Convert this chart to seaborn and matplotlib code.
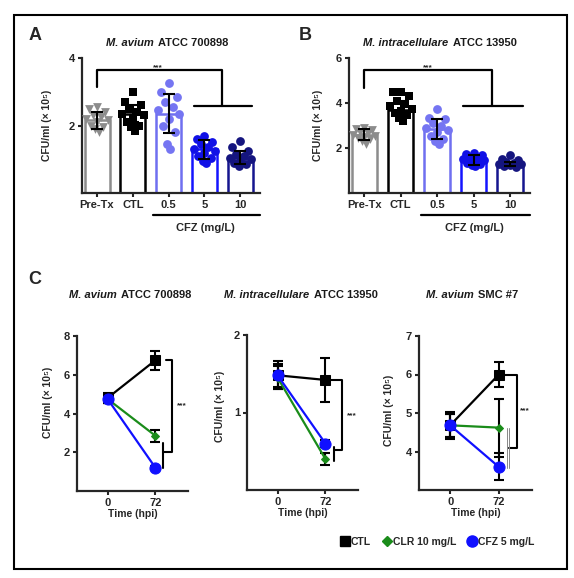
import pandas as pd
import matplotlib
matplotlib.use('Agg')
import matplotlib.pyplot as plt
import seaborn as sns
from matplotlib.offsetbox import TextArea, HPacker, AnnotationBbox
from matplotlib.lines import Line2D
from matplotlib.patches import Rectangle

sns.set_style('ticks')
plt.rcParams['font.family'] = ['Liberation Sans', 'DejaVu Sans']
plt.rcParams['font.weight'] = 'bold'

# ---- data: panels A / B (bar + dots) ----
groups = ['Pre-Tx', 'CTL', '0.5', '5', '10']
bar_colors = ['#8c8c8c', '#000000', '#6f6ff0', '#1414ff', '#15158f']
dot_colors = ['#8c8c8c', '#000000', '#7575f2', '#1010e6', '#15157f']
dot_markers = ['v', 's', 'o', 'o', 'o']

avium_mean = [2.15, 2.35, 2.35, 1.3, 1.05]
avium_sd = [0.25, 0.25, 0.58, 0.28, 0.2]
avium_points = [
    [2.55, 2.5, 2.4, 2.3, 2.25, 2.2, 2.15, 2.1, 2.0, 1.95, 1.9, 1.8],
    [3.0, 2.7, 2.6, 2.5, 2.4, 2.35, 2.3, 2.2, 2.1, 2.0, 1.95, 1.85],
    [3.25, 3.0, 2.85, 2.7, 2.55, 2.45, 2.35, 2.2, 2.0, 1.8, 1.45, 1.3],
    [1.7, 1.6, 1.5, 1.45, 1.35, 1.3, 1.25, 1.2, 1.1, 1.05, 0.95, 0.88],
    [1.55, 1.35, 1.25, 1.15, 1.1, 1.05, 1.0, 0.95, 0.9, 0.85, 0.8],
]

intra_mean = [2.6, 3.7, 2.85, 1.45, 1.3]
intra_sd = [0.25, 0.4, 0.43, 0.22, 0.1]
intra_points = [
    [2.9, 2.85, 2.8, 2.7, 2.65, 2.6, 2.55, 2.5, 2.45, 2.4, 2.3, 2.2],
    [4.5, 4.5, 4.3, 4.1, 3.95, 3.85, 3.75, 3.65, 3.55, 3.45, 3.35, 3.2],
    [3.75, 3.35, 3.3, 3.1, 3.0, 2.9, 2.8, 2.7, 2.55, 2.4, 2.3, 2.2],
    [1.8, 1.75, 1.7, 1.6, 1.55, 1.5, 1.45, 1.4, 1.35, 1.3, 1.25, 1.2],
    [1.7, 1.5, 1.45, 1.4, 1.35, 1.3, 1.3, 1.25, 1.2, 1.15],
]

# ---- data: panel C (time course) ----
times = [0, 72]
c1_ctl, c1_ctl_sd = [4.8, 6.75], [0.25, 0.5]
c1_clr, c1_clr_sd = [4.75, 2.85], [0.2, 0.32]
c1_cfz, c1_cfz_sd = [4.75, 1.2], [0.2, 0.08]

c2_ctl, c2_ctl_sd = [1.48, 1.42], [0.18, 0.28]
c2_clr, c2_clr_sd = [1.45, 0.4], [0.15, 0.08]
c2_cfz, c2_cfz_sd = [1.48, 0.6], [0.15, 0.04]

c3_ctl, c3_ctl_sd = [4.68, 6.0], [0.35, 0.32]
c3_clr, c3_clr_sd = [4.68, 4.62], [0.3, 0.75]
c3_cfz, c3_cfz_sd = [4.68, 3.6], [0.3, 0.35]

W, H = 574, 578
ylab = 'CFU/ml (× 10⁵)'
# horizontal scatter pattern for the dots (layout only)
spread = [0, -0.22, 0.22, -0.11, 0.11, -0.3, 0.3, 0.0, -0.17, 0.17, -0.05, 0.05]


def fx(px):
    return px / W


def fy(py):
    return 1 - py / H


def species_title(fig, x, y, italic, rest, size=8):
    tp = dict(fontsize=size, fontweight='bold', color='#1a1a1a')
    box = HPacker(children=[TextArea(italic, textprops=dict(tp, style='italic')),
                            TextArea(rest, textprops=tp)],
                  pad=0, sep=3, align='baseline')
    ab = AnnotationBbox(box, (fx(x), fy(y)), xycoords='figure fraction',
                        frameon=False, box_alignment=(0.5, 0.5))
    fig.add_artist(ab)


def style_axis(ax):
    sns.despine(ax=ax)
    for s in ['left', 'bottom']:
        ax.spines[s].set_linewidth(1.6)
    ax.tick_params(width=1.5, length=3, labelsize=8, pad=2)
    for lab in ax.get_xticklabels() + ax.get_yticklabels():
        lab.set_fontweight('bold')


def bar_panel(ax, means, sds, points, ymax, yticks):
    sns.barplot(x=groups, y=means, hue=groups, palette=bar_colors, fill=False,
                linewidth=1.8, width=0.7, errorbar=None, legend=False, ax=ax)
    for i, pts in enumerate(points):
        xs = [i + spread[k % len(spread)] for k in range(len(pts))]
        sns.scatterplot(x=xs, y=pts, color=dot_colors[i], marker=dot_markers[i],
                        s=40, linewidth=0, ax=ax, zorder=3)
    ax.errorbar(range(len(groups)), means, yerr=sds, fmt='none', ecolor='black',
                elinewidth=1.5, capsize=4, capthick=1.5, zorder=4)
    ax.set_xlim(-0.42, 4.55)
    ax.set_ylim(0, ymax)
    ax.set_yticks(yticks)
    ax.set_xticks(range(len(groups)))
    ax.set_xticklabels(groups)
    ax.set_xlabel('')
    ax.set_ylabel(ylab, fontsize=7.5, fontweight='bold')
    style_axis(ax)
    # CFZ underline
    tr = ax.get_xaxis_transform()
    ax.plot([1.55, 4.55], [-0.163, -0.163], color='black', lw=1.6,
            transform=tr, clip_on=False)
    ax.text(3.03, -0.26, 'CFZ (mg/L)', transform=tr, ha='center', va='center',
            fontsize=8, fontweight='bold')


def time_panel(ax, series, ylim, yticks):
    specs = [('black', 's', 7.5), ('#1a8c1a', 'D', 4.5), ('#1010ff', 'o', 8)]
    for (vals, sd), (col, mk, ms) in zip(series, specs):
        ax.errorbar(times, vals, yerr=sd, fmt='none', ecolor='black',
                    elinewidth=1.5, capsize=3.5, capthick=1.5, zorder=2)
        sns.lineplot(x=times, y=vals, color=col, marker=mk, markersize=ms,
                     markeredgecolor=col, linewidth=1.6, ax=ax, zorder=3)
    ax.set_xlim(-46, 121)
    ax.set_ylim(*ylim)
    ax.set_xticks(times)
    ax.set_yticks(yticks)
    ax.set_xlabel('Time (hpi)', fontsize=7.5, fontweight='bold', labelpad=1)
    ax.set_ylabel(ylab, fontsize=7.5, fontweight='bold')
    style_axis(ax)


fig = plt.figure(figsize=(W / 100, H / 100), dpi=100)

# ---- panel A ----
axA = fig.add_axes([fx(82), fy(193), fx(178), 135 / H])
bar_panel(axA, avium_mean, avium_sd, avium_points, 4, [2, 4])
axA.yaxis.set_label_coords(-0.17, 0.5)
axA.plot([0, 0, 3.5, 3.5], [3.15, 3.64, 3.64, 2.58], color='black', lw=1.6, clip_on=False)
axA.plot([2.7, 4.33], [2.58, 2.58], color='black', lw=1.6)
axA.text(1.7, 3.72, '***', ha='center', va='center', fontsize=6)

# ---- panel B ----
axB = fig.add_axes([fx(349), fy(193), fx(181), 135 / H])
bar_panel(axB, intra_mean, intra_sd, intra_points, 6, [2, 4, 6])
axB.yaxis.set_label_coords(-0.145, 0.5)
axB.plot([0, 0, 3.5, 3.5], [4.67, 5.47, 5.47, 3.87], color='black', lw=1.6, clip_on=False)
axB.plot([2.72, 4.35], [3.87, 3.87], color='black', lw=1.6)
axB.text(1.74, 5.58, '***', ha='center', va='center', fontsize=6)

# ---- panel C ----
axC1 = fig.add_axes([fx(77), fy(491), fx(111), 155 / H])
time_panel(axC1, [(c1_ctl, c1_ctl_sd), (c1_clr, c1_clr_sd), (c1_cfz, c1_cfz_sd)],
           (0, 8), [2, 4, 6, 8])
axC1.yaxis.set_label_coords(-0.22, 0.57)
axC1.plot([88, 97, 97, 84], [6.75, 6.75, 2.0, 2.0], color='black', lw=1.5, clip_on=False)
axC1.plot([84, 84], [2.48, 1.19], color='black', lw=1.5)
axC1.text(112, 4.4, '***', ha='center', va='center', fontsize=6)

axC2 = fig.add_axes([fx(247), fy(490), fx(111), 155 / H])
time_panel(axC2, [(c2_ctl, c2_ctl_sd), (c2_clr, c2_clr_sd), (c2_cfz, c2_cfz_sd)],
           (0, 2), [1, 2])
axC2.yaxis.set_label_coords(-0.2, 0.54)
axC2.plot([81, 97, 97, 85], [1.42, 1.42, 0.51, 0.51], color='black', lw=1.5, clip_on=False)
axC2.plot([85, 85], [0.56, 0.38], color='black', lw=1.5)
axC2.text(111, 0.96, '***', ha='center', va='center', fontsize=6)

axC3 = fig.add_axes([fx(419), fy(490), fx(113), 154 / H])
time_panel(axC3, [(c3_ctl, c3_ctl_sd), (c3_clr, c3_clr_sd), (c3_cfz, c3_cfz_sd)],
           (3, 7), [4, 5, 6, 7])
axC3.yaxis.set_label_coords(-0.22, 0.52)
axC3.plot([80, 99, 99, 87], [6.0, 6.0, 4.09, 4.09], color='black', lw=1.5, clip_on=False)
axC3.plot([84, 84], [4.6, 3.57], color='#888888', lw=0.7)
axC3.plot([86.5, 86.5], [4.6, 3.57], color='#888888', lw=0.7)
axC3.text(111, 5.05, '***', ha='center', va='center', fontsize=6)

# ---- titles ----
species_title(fig, 167, 43, 'M. avium', 'ATCC 700898')
species_title(fig, 440, 43, 'M. intracellulare', 'ATCC 13950')
species_title(fig, 130, 295, 'M. avium', 'ATCC 700898')
species_title(fig, 301, 295, 'M. intracellulare', 'ATCC 13950')
species_title(fig, 472, 295, 'M. avium', 'SMC #7')

for letter, x, y in [('A', 35, 36), ('B', 305, 36), ('C', 35, 280)]:
    fig.text(fx(x), fy(y), letter, ha='center', va='center', fontsize=13, fontweight='bold')

# ---- legend ----
handles = [
    Line2D([], [], marker='s', color='black', ls='none', ms=7.5, label='CTL'),
    Line2D([], [], marker='D', color='#1a8c1a', ls='none', ms=5.5, label='CLR 10 mg/L'),
    Line2D([], [], marker='o', color='#1010ff', ls='none', ms=8, label='CFZ 5 mg/L'),
]
fig.legend(handles=handles, loc='center', bbox_to_anchor=(fx(437), fy(542)), ncol=3,
           frameon=False, handletextpad=0.1, columnspacing=1.0, handlelength=1.0,
           prop=dict(weight='bold', size=7.5))

# ---- outer frame ----
fig.add_artist(Rectangle((fx(14), fy(569)), fx(553), (569 - 15) / H, transform=fig.transFigure,
                         fill=False, edgecolor='black', lw=1.5))

fig.savefig('out.png', dpi=100)
